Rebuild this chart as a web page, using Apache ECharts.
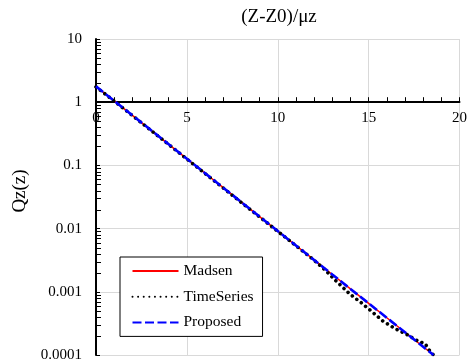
<!DOCTYPE html>
<html>
<head>
<meta charset="utf-8">
<script src="https://cdn.jsdelivr.net/npm/echarts@6/dist/echarts.min.js"></script>
<style>html,body{margin:0;padding:0;background:#fff}#c{width:470px;height:363px}</style>
</head>
<body>
<div id="c"></div>
<script>
// ---- data ----
const titleText = '(Z-Z0)/\u03bcz';
const yName = 'Qz(z)';
const xTicks = [0, 5, 10, 15, 20];
const yTickLabels = ['10', '1', '0.1', '0.01', '0.001', '0.0001'];
const seriesNames = ['Madsen', 'TimeSeries', 'Proposed'];

const xMadsen = [0, 1, 2, 3, 4, 5, 6, 7, 8, 9, 10, 11, 12, 13, 14, 15, 16, 17, 18, 18.57];
const yMadsen = [1.77, 1.048, 0.619, 0.365, 0.2157, 0.1274, 0.0752, 0.0444, 0.0262, 0.01548,
                 0.00914, 0.0054, 0.00319, 0.00188, 0.00111, 0.000656, 0.000388, 0.000229, 0.000135, 0.0001];

const xTime = [0, 1, 2, 3, 4, 5, 6, 7, 8, 9, 10, 11, 12, 12.6, 13.12, 13.99, 14.6, 15.2, 15.79, 16.44, 17.11, 17.44, 17.8, 18.11, 18.29, 18.57];
const yTime = [1.75, 1.04, 0.615, 0.362, 0.214, 0.126, 0.0745, 0.044, 0.0259, 0.0153,
               0.00905, 0.00535, 0.00316, 0.00222, 0.00157, 0.00091, 0.00067, 0.00048, 0.000344,
               0.000263, 0.000211, 0.000185, 0.000161, 0.000152, 0.000124, 0.0001];

const xProposed = [0, 1, 2, 3, 4, 5, 6, 7, 8, 9, 10, 11, 12, 13, 14, 15, 16, 17, 18, 18.57];
const yProposed = [1.78, 1.05, 0.62, 0.366, 0.2159, 0.1275, 0.0752, 0.0444, 0.0262, 0.01548,
                   0.00914, 0.0054, 0.00319, 0.00188, 0.00111, 0.000657, 0.000388, 0.000229, 0.000135, 0.0001];

const minorMultipliers = [2, 3, 4, 5, 6, 7, 8, 9];
const decades = [0.0001, 0.001, 0.01, 0.1, 1];

// ---- build ----
const pairs = (xs, ys) => xs.map((x, i) => [x, ys[i]]);
const minorVals = [];
decades.forEach(d => minorMultipliers.forEach(m => minorVals.push([0, +(m * d).toPrecision(3)])));

const FONT = "'Liberation Serif', 'Times New Roman', serif";
const GRID = {left: 96, top: 39, width: 367, height: 316};

const chart = echarts.init(document.getElementById('c'), null, {renderer: 'canvas'});
const option = {
  animation: false,
  backgroundColor: '#fff',
  textStyle: {fontFamily: FONT, color: '#000'},
  title: {
    text: titleText, left: 279, top: 8, textAlign: 'center', padding: 0,
    textStyle: {fontFamily: FONT, fontSize: 19, fontWeight: 'normal', color: '#000'}
  },
  grid: GRID,
  legend: {
    orient: 'vertical', left: 120, top: 257,
    data: seriesNames,
    backgroundColor: '#fff', borderColor: '#000', borderWidth: 1, borderRadius: 0,
    padding: [6, 9, 6, 11.5],
    itemWidth: 46, itemHeight: 16, itemGap: 9.7,
    itemStyle: {opacity: 0},
    textStyle: {fontFamily: FONT, fontSize: 15.5, color: '#000', lineHeight: 16},
    selectedMode: false
  },
  xAxis: {
    type: 'value', position: 'top', offset: -63.2,
    min: xTicks[0], max: xTicks[xTicks.length - 1], interval: 5,
    axisLine: {show: true, onZero: false, lineStyle: {color: '#000', width: 2}},
    axisTick: {show: true, length: 5, lineStyle: {color: '#000', width: 1}},
    minorTick: {show: true, splitNumber: 5, length: 5, lineStyle: {color: '#000', width: 1}},
    axisLabel: {inside: true, margin: 8, fontFamily: FONT, fontSize: 15, color: '#000'},
    splitLine: {show: true, lineStyle: {color: '#d9d9d9', width: 1}}
  },
  yAxis: {
    type: 'log', logBase: 10, min: 0.0001, max: 10,
    name: yName, nameLocation: 'middle', nameGap: 62, nameRotate: 90,
    nameTextStyle: {fontFamily: FONT, fontSize: 19, color: '#000', padding: [0, 0, 0, 12]},
    axisLine: {show: true, lineStyle: {color: '#000', width: 2}},
    axisTick: {show: true, inside: true, length: 4, lineStyle: {color: '#000', width: 1}},
    axisLabel: {
      margin: 14, fontFamily: FONT, fontSize: 15, color: '#000',
      formatter: v => {
        const e = Math.round(Math.log10(v));
        return yTickLabels[1 - e];
      }
    },
    splitLine: {show: true, lineStyle: {color: '#d9d9d9', width: 1}}
  },
  series: [
    {
      name: seriesNames[0], type: 'line', data: pairs(xMadsen, yMadsen),
      symbol: 'none', showSymbol: false, z: 2,
      lineStyle: {color: '#ff0000', width: 1.5}, itemStyle: {color: '#ff0000'}
    },
    {
      name: seriesNames[1], type: 'line', data: pairs(xTime, yTime),
      symbol: 'none', showSymbol: false, z: 3,
      lineStyle: {color: '#000', width: 3.6, type: [0.01, 5.6], cap: 'round'}, itemStyle: {color: '#000'}
    },
    {
      name: seriesNames[2], type: 'line', data: pairs(xProposed, yProposed),
      symbol: 'none', showSymbol: false, z: 4,
      lineStyle: {color: '#0000ff', width: 2.6, type: [9, 3.5]}, itemStyle: {color: '#0000ff'}
    },
    {
      name: 'minorTicks', type: 'custom', data: minorVals, silent: true, clip: false, z: 5,
      renderItem: (params, api) => {
        const p = api.coord([api.value(0), api.value(1)]);
        return {type: 'line', shape: {x1: p[0] + 1, y1: Math.round(p[1]) + 0.5, x2: p[0] + 5, y2: Math.round(p[1]) + 0.5},
                style: {stroke: '#000', lineWidth: 1}};
      }
    }
  ]
};
chart.setOption(option);
// place the x axis exactly on y = 1
const y1 = chart.convertToPixel({yAxisIndex: 0}, 1);
chart.setOption({xAxis: {offset: -(y1 - GRID.top)}});
</script>
</body>
</html>
